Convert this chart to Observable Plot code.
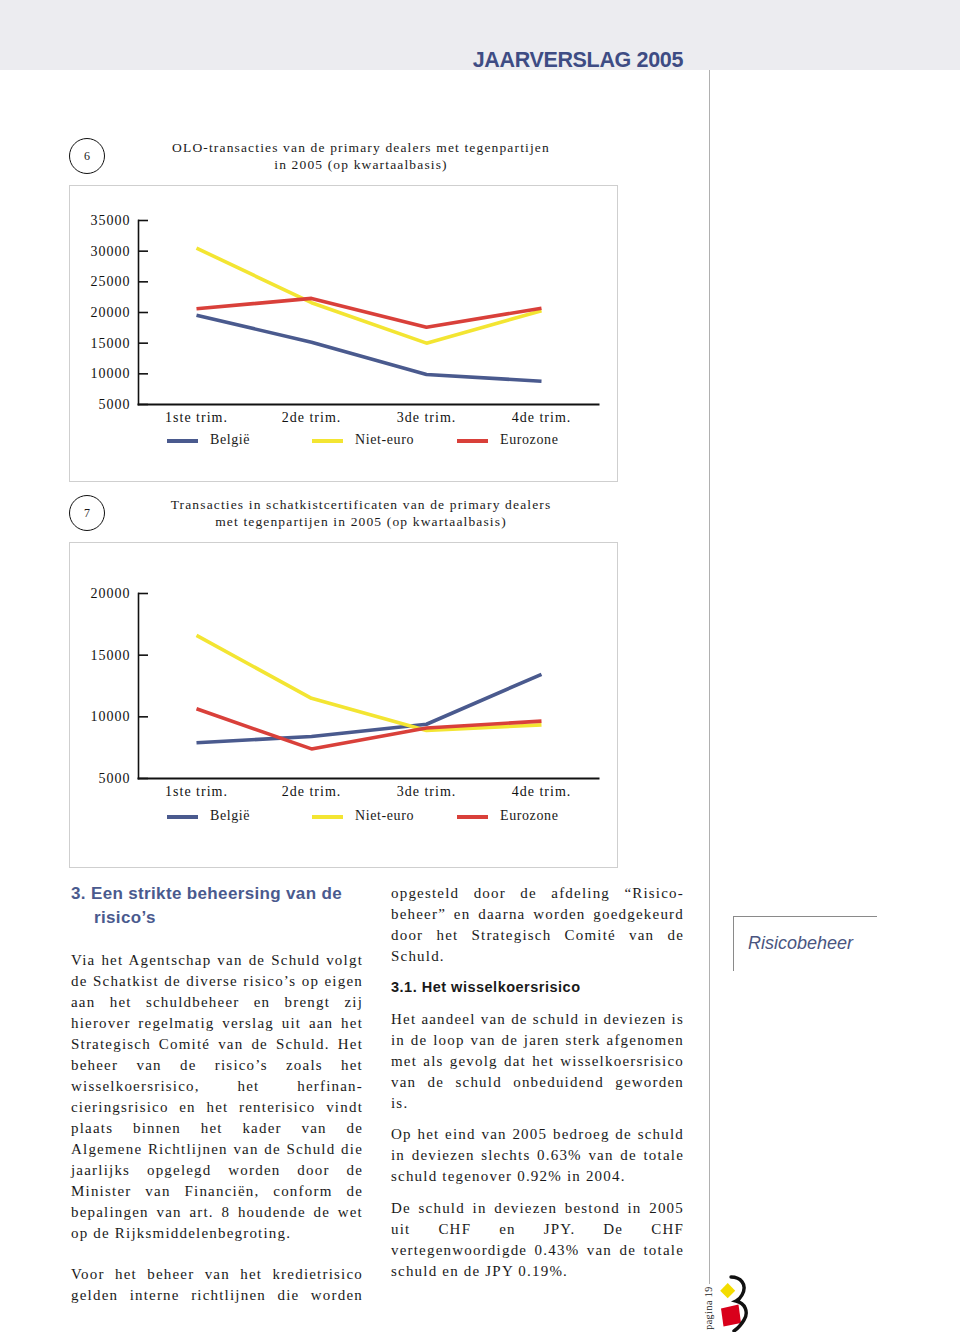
<!DOCTYPE html>
<html>
<head>
<meta charset="utf-8">
<script src="https://cdn.jsdelivr.net/npm/d3@7"></script>
<script src="https://cdn.jsdelivr.net/npm/@observablehq/plot@0.6"></script>
<style>
  html, body { margin: 0; padding: 0; background: #fff; }
  #page { position: relative; width: 960px; height: 1332px; overflow: hidden; background: #fff; }
  .abs { position: absolute; }
  .serif { font-family: "Liberation Serif", "Times New Roman", serif; color: #1a1a1a; }
  .sans { font-family: "Liberation Sans", Arial, sans-serif; }
  .chartsvg svg text { letter-spacing: 1px; }
  .body-line { position: absolute; height: 21px; line-height: 21px; font-size: 15px; letter-spacing: 1.2px; white-space: nowrap; overflow: visible; }
  .just { text-align: justify; text-align-last: justify; white-space: normal; }
  .circle { position: absolute; width: 34px; height: 34px; border: 1.4px solid #111; border-radius: 50%; text-align: center; line-height: 34px; font-size: 12px; }
  .title { position: absolute; width: 440px; text-align: center; font-size: 13.5px; letter-spacing: 1.15px; line-height: 17px; }
  .box { position: absolute; box-sizing: border-box; border: 1.5px solid #cfcfcf; }
  .leg-sw { position: absolute; width: 31px; height: 4px; }
  .leg-tx { position: absolute; font-size: 14px; letter-spacing: 0.6px; line-height: 16px; }
</style>
</head>
<body>
<div id="page"></div>
<script>
// ---------- data ----------
const quarters = ["1ste trim.", "2de trim.", "3de trim.", "4de trim."];
const seriesNames = ["België", "Niet-euro", "Eurozone"];
const seriesColors = ["#4a5a8e", "#f3e532", "#d9403a"];

// Chart 6: OLO-transacties
const oloBelgie   = [19550, 15150, 9900, 8800];
const oloNietEuro = [30500, 21600, 15000, 20300];
const oloEurozone = [20600, 22300, 17600, 20700];
const oloTicks = [5000, 10000, 15000, 20000, 25000, 30000, 35000];

// Chart 7: schatkistcertificaten
const scBelgie   = [7900, 8400, 9400, 13450];
const scNietEuro = [16600, 11500, 8900, 9350];
const scEurozone = [10650, 7400, 9100, 9650];
const scTicks = [5000, 10000, 15000, 20000];

const title6 = ["OLO-transacties van de primary dealers met tegenpartijen", "in 2005 (op kwartaalbasis)"];
const title7 = ["Transacties in schatkistcertificaten van de primary dealers", "met tegenpartijen in 2005 (op kwartaalbasis)"];

// ---------- helpers ----------
const page = document.getElementById("page");
function el(tag, cls, css, html) {
  const e = document.createElement(tag);
  if (cls) e.className = cls;
  if (css) Object.assign(e.style, css);
  if (html != null) e.innerHTML = html;
  page.appendChild(e);
  return e;
}

function makeChart(series, ticks, height, marginTop, marginBottom) {
  const data = [];
  series.forEach((vals, si) => quarters.forEach((q, qi) => data.push({series: seriesNames[si], quarter: q, value: vals[qi]})));
  return Plot.plot({
    width: 548, height, marginLeft: 69, marginRight: 19, marginTop, marginBottom,
    style: {fontFamily: "Liberation Serif, Times New Roman, serif", fontSize: "14px", background: "transparent", color: "#111", overflow: "visible"},
    x: {type: "point", domain: quarters, padding: 0.5, label: null},
    y: {domain: [d3.min(ticks), d3.max(ticks)], label: null},
    color: {domain: seriesNames, range: seriesColors},
    marks: [
      Plot.axisY(ticks, {tickSize: 0, tickPadding: 8, tickFormat: d => String(d), fill: "#111"}),
      Plot.axisY(ticks, {tickSize: 10, dx: 10, tickFormat: () => "", stroke: "#111", strokeWidth: 1.6}),
      Plot.axisX({tickSize: 0, tickPadding: 8, fill: "#111"}),
      Plot.frame({anchor: "left", stroke: "#111", strokeWidth: 1.6}),
      Plot.frame({anchor: "bottom", stroke: "#111", strokeWidth: 2}),
      Plot.line(data, {x: "quarter", y: "value", z: "series", stroke: "series", strokeWidth: 3.6, strokeLinejoin: "miter", strokeLinecap: "butt"})
    ]
  });
}

function chartBlock(num, titleLines, series, ticks, cfg) {
  el("div", "circle serif", {left: "69px", top: (cfg.circleY - 18) + "px"}, num);
  el("div", "title serif", {left: "141px", top: (cfg.titleY - 8.5) + "px"}, titleLines.join("<br>"));
  el("div", "box", {left: "69px", top: cfg.boxTop + "px", width: "549px", height: cfg.boxH + "px"});
  const holder = el("div", "abs chartsvg", {left: "69px", top: cfg.boxTop + "px"});
  holder.appendChild(makeChart(series, ticks, cfg.svgH, cfg.mt, cfg.mb));
  seriesNames.forEach((name, i) => {
    el("div", "leg-sw", {left: (167 + i * 145) + "px", top: (cfg.legY - 2) + "px", background: seriesColors[i]});
    el("div", "leg-tx serif", {left: (210 + i * 145) + "px", top: (cfg.legY - 9) + "px"}, name);
  });
}

// ---------- header ----------
el("div", "abs", {left: "0px", top: "0px", width: "960px", height: "70px", background: "#ececf0"});
el("div", "abs sans", {right: "277px", top: "49px", fontSize: "21.5px", fontWeight: "bold", color: "#3e4c84", letterSpacing: "-0.35px", lineHeight: "22px", whiteSpace: "nowrap"}, "JAARVERSLAG 2005");
el("div", "abs", {left: "709px", top: "70px", width: "1px", height: "1214px", background: "#b0b0b0"});

// ---------- charts ----------
chartBlock("6", title6, [oloBelgie, oloNietEuro, oloEurozone], oloTicks,
  {circleY: 156, titleY: 147, boxTop: 185, boxH: 297, svgH: 250, mt: 35, mb: 31, legY: 441});
chartBlock("7", title7, [scBelgie, scNietEuro, scEurozone], scTicks,
  {circleY: 513, titleY: 504, boxTop: 542, boxH: 326, svgH: 270, mt: 51, mb: 34, legY: 817});

// ---------- text ----------
function para(x, yFirst, width, lines, lastJustified) {
  lines.forEach((t, i) => {
    const isLast = i === lines.length - 1 && !lastJustified;
    el("div", "body-line serif" + (isLast ? "" : " just"), {left: x + "px", top: (yFirst + i * 21 - 10.5) + "px", width: width + "px"}, t);
  });
}

el("div", "abs sans", {left: "71px", top: "882px", fontSize: "17px", fontWeight: "bold", color: "#4a5a8e", letterSpacing: "0.35px", lineHeight: "24px"},
  "3. Een strikte beheersing van de<br><span style='padding-left:23px'>risico’s</span>");

para(71, 960, 292, [
  "Via het Agentschap van de Schuld volgt",
  "de Schatkist de diverse risico’s op eigen",
  "aan het schuldbeheer en brengt zij",
  "hierover regelmatig verslag uit aan het",
  "Strategisch Comité van de Schuld. Het",
  "beheer van de risico’s zoals het",
  "wisselkoersrisico, het herfinan-",
  "cieringsrisico en het renterisico vindt",
  "plaats binnen het kader van de",
  "Algemene Richtlijnen van de Schuld die",
  "jaarlijks opgelegd worden door de",
  "Minister van Financiën, conform de",
  "bepalingen van art. 8 houdende de wet",
  "op de Rijksmiddelenbegroting."
]);
para(71, 1274, 292, [
  "Voor het beheer van het kredietrisico",
  "gelden interne richtlijnen die worden"
], true);

para(391, 893, 293, [
  "opgesteld door de afdeling “Risico-",
  "beheer” en daarna worden goedgekeurd",
  "door het Strategisch Comité van de",
  "Schuld."
]);
el("div", "abs sans", {left: "391px", top: "978px", fontSize: "14.5px", fontWeight: "bold", color: "#1a1a1a", letterSpacing: "0.5px", lineHeight: "18px"}, "3.1. Het wisselkoersrisico");
para(391, 1019, 293, [
  "Het aandeel van de schuld in deviezen is",
  "in de loop van de jaren sterk afgenomen",
  "met als gevolg dat het wisselkoersrisico",
  "van de schuld onbeduidend geworden",
  "is."
]);
para(391, 1134, 293, [
  "Op het eind van 2005 bedroeg de schuld",
  "in deviezen slechts 0.63% van de totale",
  "schuld tegenover 0.92% in 2004."
]);
para(391, 1208, 293, [
  "De schuld in deviezen bestond in 2005",
  "uit CHF en JPY. De CHF",
  "vertegenwoordigde 0.43% van de totale",
  "schuld en de JPY 0.19%."
]);

// ---------- sidebar ----------
el("div", "abs", {left: "733px", top: "916px", width: "144px", height: "1px", background: "#8a8a8a"});
el("div", "abs", {left: "733px", top: "916px", width: "1px", height: "55px", background: "#8a8a8a"});
el("div", "abs sans", {left: "748px", top: "932px", fontSize: "18px", fontStyle: "italic", color: "#4a5580", lineHeight: "22px"}, "Risicobeheer");

// ---------- footer logo ----------
el("div", "abs serif", {left: "682px", top: "1302px", width: "54px", textAlign: "center", fontSize: "10px", lineHeight: "12px", transform: "rotate(-90deg)", letterSpacing: "0.5px", whiteSpace: "nowrap"}, "pagina 19");
const logo = el("div", "abs", {left: "715px", top: "1272px"});
logo.innerHTML = `<svg width="45" height="60" viewBox="0 0 45 60">
  <polygon points="12.7,11 20.2,18.7 12.7,26.2 5.2,18.7" fill="#f3dc00"/>
  <polygon points="6,36.5 23.5,32.5 26,51 8.5,54.5" fill="#d9001b"/>
  <path d="M16,5 C25,5 33,12 27,23 C25,27 23,28 21,29 C30,31 34,40 29,48 C26,53 22,57 19,59"
        fill="none" stroke="#111" stroke-width="3.4" stroke-linecap="round"/>
</svg>`;
</script>
</body>
</html>
